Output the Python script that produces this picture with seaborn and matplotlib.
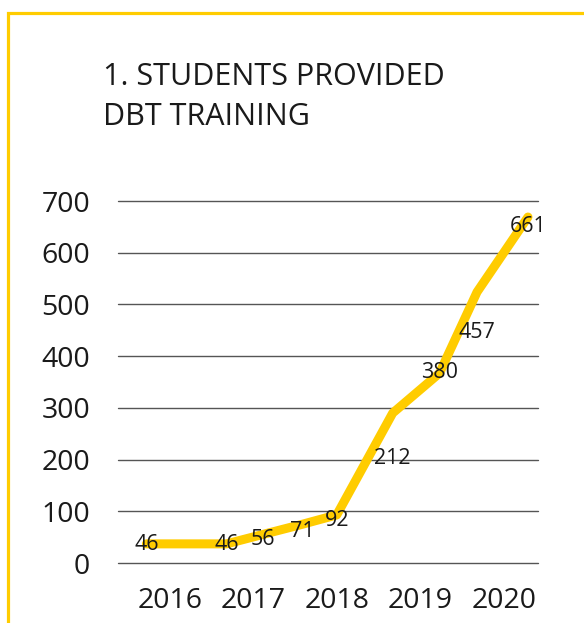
import seaborn as sns
import matplotlib.pyplot as plt
import pandas as pd
from matplotlib.patches import Rectangle

# data
years = ["2016", "2017", "2018", "2019", "2020"]
x_pos = [-0.28, 0.68, 1.11, 1.59, 2.0, 2.67, 3.23, 3.68, 4.29]      # where each point sits between the year ticks
line_vals = [37, 37, 55, 75, 93, 290, 367, 524, 669]               # height of the drawn yellow line
labels = [46, 46, 56, 71, 92, 212, 380, 457, 661]                  # numbers printed on the chart

df = pd.DataFrame({"x": x_pos, "students": line_vals, "label": labels})

sns.set_theme(style="white")
plt.rcParams["font.family"] = ["Open Sans", "DejaVu Sans"]

yellow = "#FFCC00"
ink = "#1a1a1a"

fig = plt.figure(figsize=(5.84, 6.23), dpi=100)
ax = fig.add_axes([118 / 584, 1 - 563 / 623, 420 / 584, 362 / 623])

# yellow frame round the card
fig.patches.append(Rectangle((7.5 / 584, -0.05), 1.2, 1 - 12.5 / 623 + 0.05,
                             transform=fig.transFigure, fill=False,
                             edgecolor=yellow, linewidth=2.3))

sns.lineplot(data=df, x="x", y="students", color=yellow, linewidth=6.5, ax=ax)

for xv, lab in zip(df["x"], df["label"]):
    ax.annotate(str(lab), (xv, lab), xytext=(0, -4), textcoords="offset points",
                ha="center", va="center", fontsize=15.5, color=ink)

ax.set_xlim(-0.62, 4.41)
ax.set_ylim(0, 700)
ax.set_xticks(range(len(years)))
ax.set_xticklabels(years)
ax.set_yticks(range(0, 701, 100))
ax.tick_params(axis="both", labelsize=20.5, colors=ink, length=0)
ax.tick_params(axis="y", pad=20)
ax.tick_params(axis="x", pad=17)
ax.set_xlabel("")
ax.set_ylabel("")
ax.grid(axis="y", color="#555555", linewidth=1)
ax.grid(axis="x", visible=False)
for gl in ax.get_ygridlines():
    gl.set_clip_on(False)
for s in ax.spines.values():
    s.set_visible(False)

fig.text(103 / 584, 1 - 62 / 623, "1. STUDENTS PROVIDED\nDBT TRAINING",
         ha="left", va="top", fontsize=22, color=ink, linespacing=1.42)

fig.savefig("out.png", dpi=100)
